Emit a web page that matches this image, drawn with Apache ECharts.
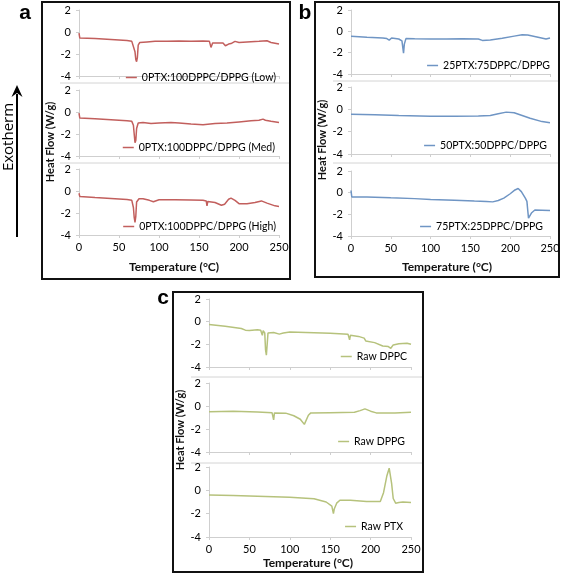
<!DOCTYPE html>
<html><head><meta charset="utf-8">
<script src="https://cdn.jsdelivr.net/npm/echarts@6/dist/echarts.min.js"></script>
<style>html,body{margin:0;padding:0;background:#fff}#c{width:567px;height:574px}</style>
</head><body><div id="c"></div>
<script>
// ---- data: [temperature °C, heat flow W/g] ----
const xTicks = [0, 50, 100, 150, 200, 250];
const yTicks = [-4, -2, 0, 2];
const names = ['0PTX:100DPPC/DPPG (Low)','0PTX:100DPPC/DPPG (Med)','0PTX:100DPPC/DPPG (High)',
  '25PTX:75DPPC/DPPG','50PTX:50DPPC/DPPG','75PTX:25DPPC/DPPG','Raw DPPC','Raw DPPG','Raw PTX'];
const lowSeries = [[0,-0.1],[1,-0.55],[20,-0.6],[40,-0.68],[60,-0.78],[66,-0.85],[68,-1.0],[70,-1.8],[71,-2.5],[72,-2.7],[73,-2.3],[74,-1.2],[76,-0.95],[85,-0.9],[95,-0.85],[110,-0.85],[125,-0.82],[140,-0.85],[155,-0.82],[163,-0.85],[165,-1.4],[166,-1.5],[167,-1.0],[175,-1.0],[180,-1.0],[183,-1.25],[185,-1.35],[187,-1.1],[190,-1.05],[195,-0.85],[200,-0.95],[210,-0.9],[225,-0.85],[235,-0.8],[240,-0.95],[250,-1.1]];
const medSeries = [[0,-0.1],[1,-0.55],[20,-0.62],[40,-0.7],[60,-0.8],[66,-0.85],[68,-1.2],[69,-2.0],[70,-2.8],[71,-2.6],[72,-1.5],[74,-1.0],[80,-0.95],[90,-1.05],[100,-1.0],[115,-0.95],[125,-1.0],[140,-1.1],[155,-1.15],[170,-1.05],[185,-1.0],[200,-0.9],[215,-0.8],[225,-0.75],[230,-0.65],[233,-0.75],[240,-0.85],[250,-0.95]];
const highSeries = [[0,-0.2],[1,-0.5],[20,-0.6],[40,-0.68],[60,-0.78],[66,-0.85],[68,-1.5],[69,-2.4],[70,-2.85],[71,-2.3],[72,-1.0],[75,-0.7],[80,-0.7],[88,-0.85],[93,-0.97],[100,-0.8],[120,-0.8],[140,-0.82],[155,-0.85],[159,-0.9],[160,-1.35],[161,-0.95],[170,-1.05],[178,-1.3],[182,-1.2],[187,-0.75],[190,-0.65],[195,-0.85],[200,-1.15],[210,-1.15],[220,-1.05],[228,-0.9],[235,-1.1],[245,-1.35],[250,-1.4]];
const ptx25Series = [[0,-0.45],[1,-0.5],[20,-0.55],[40,-0.62],[45,-0.68],[48,-0.82],[51,-0.62],[60,-0.72],[64,-0.9],[66,-2.05],[67,-1.2],[69,-0.68],[80,-0.7],[100,-0.72],[120,-0.72],[140,-0.7],[160,-0.72],[165,-0.85],[175,-0.82],[190,-0.65],[205,-0.45],[215,-0.33],[222,-0.35],[235,-0.55],[245,-0.72],[250,-0.62]];
const ptx50Series = [[0,-0.45],[2,-0.4],[30,-0.48],[60,-0.55],[100,-0.62],[130,-0.62],[160,-0.6],[175,-0.55],[185,-0.4],[195,-0.25],[205,-0.3],[215,-0.55],[225,-0.8],[240,-1.1],[250,-1.2]];
const ptx75Series = [[0,0.2],[1,-0.4],[20,-0.4],[50,-0.48],[80,-0.55],[100,-0.62],[130,-0.7],[155,-0.78],[170,-0.82],[178,-0.85],[185,-0.72],[192,-0.5],[200,-0.1],[206,0.25],[210,0.38],[214,0.1],[219,-0.5],[221,-0.8],[222,-1.6],[223,-2.35],[225,-2.3],[227,-1.85],[231,-1.6],[240,-1.62],[250,-1.65]];
const dppcSeries = [[0,-0.25],[20,-0.4],[40,-0.6],[45,-0.75],[50,-0.78],[60,-0.72],[64,-0.75],[66,-1.2],[67,-0.8],[69,-1.0],[70,-2.5],[71,-2.95],[72,-2.0],[73,-1.0],[80,-0.95],[87,-1.1],[92,-1.0],[100,-0.92],[130,-0.98],[150,-1.02],[172,-1.1],[174,-1.6],[175,-1.2],[185,-1.3],[192,-1.45],[194,-1.7],[196,-1.55],[205,-1.85],[215,-2.15],[222,-2.2],[225,-2.35],[228,-2.05],[235,-1.95],[245,-1.9],[250,-2.0]];
const dppgSeries = [[0,-0.5],[2,-0.45],[30,-0.45],[60,-0.52],[78,-0.58],[80,-1.2],[81,-0.6],[95,-0.62],[105,-0.85],[113,-1.15],[118,-1.6],[120,-1.5],[123,-0.8],[126,-0.6],[150,-0.58],[180,-0.55],[187,-0.4],[193,-0.25],[200,-0.45],[207,-0.6],[230,-0.6],[250,-0.55]];
const rawPtxSeries = [[0,-0.4],[30,-0.45],[70,-0.52],[100,-0.6],[130,-0.72],[145,-1.0],[152,-1.35],[154,-2.0],[155,-1.6],[158,-1.1],[162,-0.85],[175,-0.85],[195,-0.95],[212,-0.95],[216,-0.2],[220,1.2],[223,1.9],[226,0.6],[228,-0.7],[231,-1.1],[235,-1.05],[240,-1.0],[250,-1.05]];
const allSeries = [lowSeries, medSeries, highSeries, ptx25Series, ptx50Series, ptx75Series, dppcSeries, dppgSeries, rawPtxSeries];

// ---- layout ----
const FONT = 'Lato';
const colors = ['#c25f5d','#c25f5d','#c25f5d','#6f95c4','#6f95c4','#6f95c4','#b6c27c','#b6c27c','#b6c27c'];
const grids = [
  {left:79, top:10, width:200, height:66},{left:79, top:90, width:200, height:66},{left:79, top:169, width:200, height:66},
  {left:351, top:10, width:199, height:64},{left:351, top:87, width:199, height:67},{left:351, top:171, width:199, height:65},
  {left:209, top:299, width:202, height:68},{left:209, top:383, width:202, height:69},{left:209, top:467, width:202, height:70}
];
const legendPos = [
  {right:291, cy:79},{right:292, cy:149},{right:291, cy:228},
  {right:17, cy:67},{right:20, cy:147},{right:24, cy:228},
  {right:160, cy:358},{right:162, cy:443},{right:164, cy:528}
];
const bottomIdx = [2,5,8];

const chart = echarts.init(document.getElementById('c'), null, {renderer:'canvas'});
const option = {
  animation:false,
  backgroundColor:'#fff',
  grid: grids,
  xAxis: grids.map((g,i)=>({
    type:'value', gridIndex:i, min:xTicks[0], max:xTicks[xTicks.length-1], interval:50,
    axisLine:{show:true, onZero:false, lineStyle:{color:'#cfcfcf', width:1}},
    axisTick:{show:true, length:3, lineStyle:{color:'#cfcfcf'}},
    splitLine:{show:false},
    axisLabel:{show: bottomIdx.includes(i), color:'#000', fontFamily:FONT, fontSize:11, margin:7}
  })),
  yAxis: grids.map((g,i)=>({
    type:'value', gridIndex:i, min:yTicks[0], max:yTicks[yTicks.length-1], interval:2,
    axisLine:{show:true, lineStyle:{color:'#cfcfcf', width:1}},
    axisTick:{show:true, length:3, lineStyle:{color:'#cfcfcf'}},
    splitLine:{show:false},
    axisLabel:{color:'#000', fontFamily:FONT, fontSize:11, margin:8}
  })),
  legend: legendPos.map((p,i)=>({
    data:[names[i]], right:p.right, top:p.cy-7, padding:0, icon:'rect', itemWidth:11, itemHeight:1.5,
    textStyle:{fontFamily:FONT, fontSize:10.5, color:'#000'}
  })),
  series: allSeries.map((d,i)=>({
    name:names[i], type:'line', xAxisIndex:i, yAxisIndex:i, data:d, showSymbol:false, symbol:'none',
    lineStyle:{color:colors[i], width:1.5}, itemStyle:{color:colors[i]}
  })),
  graphic: [
    // panel boxes
    {type:'rect', shape:{x:42,y:2,width:248,height:277}, style:{fill:null, stroke:'#111', lineWidth:2}},
    {type:'rect', shape:{x:315,y:2,width:244,height:275}, style:{fill:null, stroke:'#111', lineWidth:2}},
    {type:'rect', shape:{x:173,y:292,width:250,height:280}, style:{fill:null, stroke:'#111', lineWidth:2}},
    // separators
    {type:'line', shape:{x1:60,y1:83,x2:289,y2:83}, style:{stroke:'#d4d4d4', lineWidth:1}},
    {type:'line', shape:{x1:60,y1:163,x2:289,y2:163}, style:{stroke:'#d4d4d4', lineWidth:1}},
    {type:'line', shape:{x1:333,y1:81,x2:558,y2:81}, style:{stroke:'#d4d4d4', lineWidth:1}},
    {type:'line', shape:{x1:333,y1:163,x2:558,y2:163}, style:{stroke:'#d4d4d4', lineWidth:1}},
    {type:'line', shape:{x1:191,y1:377,x2:422,y2:377}, style:{stroke:'#d4d4d4', lineWidth:1}},
    {type:'line', shape:{x1:191,y1:463,x2:422,y2:463}, style:{stroke:'#d4d4d4', lineWidth:1}},
    // panel letters
    {type:'text', x:25, y:13, style:{text:'a', font:'bold 21px "Liberation Sans"', fill:'#000', textAlign:'center', textVerticalAlign:'middle'}},
    {type:'text', x:305, y:13, style:{text:'b', font:'bold 21px "Liberation Sans"', fill:'#000', textAlign:'center', textVerticalAlign:'middle'}},
    {type:'text', x:163, y:298, style:{text:'c', font:'bold 21px "Liberation Sans"', fill:'#000', textAlign:'center', textVerticalAlign:'middle'}},
    // y titles
    {type:'text', x:50, y:142, rotation:Math.PI/2, style:{text:'Heat Flow (W/g)', font:'bold 11px Lato', fill:'#111', textAlign:'center', textVerticalAlign:'middle'}},
    {type:'text', x:322, y:140, rotation:Math.PI/2, style:{text:'Heat Flow (W/g)', font:'bold 11px Lato', fill:'#111', textAlign:'center', textVerticalAlign:'middle'}},
    {type:'text', x:180, y:430, rotation:Math.PI/2, style:{text:'Heat Flow (W/g)', font:'bold 11px Lato', fill:'#111', textAlign:'center', textVerticalAlign:'middle'}},
    // x titles
    {type:'text', x:174, y:267, style:{text:'Temperature (°C)', font:'bold 12px Lato', fill:'#111', textAlign:'center', textVerticalAlign:'middle'}},
    {type:'text', x:447, y:267, style:{text:'Temperature (°C)', font:'bold 12px Lato', fill:'#111', textAlign:'center', textVerticalAlign:'middle'}},
    {type:'text', x:308, y:563, style:{text:'Temperature (°C)', font:'bold 12px Lato', fill:'#111', textAlign:'center', textVerticalAlign:'middle'}},
    // exotherm
    {type:'text', x:9, y:137, rotation:Math.PI/2, style:{text:'Exotherm', font:'15px "Open Sans"', fill:'#000', textAlign:'center', textVerticalAlign:'middle'}},
    {type:'line', shape:{x1:17,y1:237,x2:17,y2:94}, style:{stroke:'#000', lineWidth:2}},
    {type:'polygon', shape:{points:[[17,85],[11.5,97],[17,93],[22.5,97]]}, style:{fill:'#000'}}
  ]
};
chart.setOption(option);
</script></body></html>
